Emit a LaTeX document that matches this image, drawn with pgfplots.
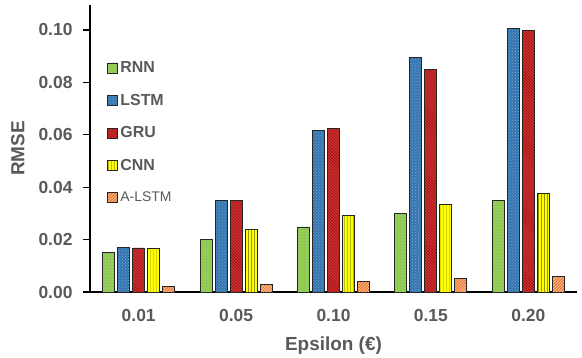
\documentclass[border=0pt]{standalone}
\usepackage{pgfplots}
\pgfplotsset{compat=1.18}
\usepackage{fontspec}
\setmainfont{Liberation Sans}
\usetikzlibrary{patterns}
\definecolor{txt}{HTML}{595959}
\definecolor{cRNN}{HTML}{92D050}
\definecolor{cLSTM}{HTML}{3474B0}
\definecolor{cGRU}{HTML}{CC3333}
\definecolor{cCNN}{HTML}{FFFF00}
\definecolor{cAL}{HTML}{ED7D31}
\pgfplotstableread{
x RNN LSTM GRU CNN AL
0 0.0150 0.0170 0.0168 0.0165 0.0020
1 0.0200 0.0350 0.0350 0.0238 0.0030
2 0.0248 0.0618 0.0623 0.0293 0.0039
3 0.0298 0.0896 0.0848 0.0335 0.0050
4 0.0348 0.1006 0.0997 0.0375 0.0060
}\data
\begin{document}
\begin{tikzpicture}
\begin{axis}[
  scale only axis, width=487bp, height=287bp,
  ybar=3bp, bar width=12bp,
  xmin=-0.5, xmax=4.5, ymin=0, ymax=0.1095,
  axis lines=left, axis line style={black, line width=1.3bp, -},
  xtick=data, xticklabels={0.01,0.05,0.10,0.15,0.20},
  major x tick style={draw=none},
  ytick={0,0.02,0.04,0.06,0.08,0.10},
  yticklabel style={xshift=-7bp, /pgf/number format/.cd, fixed, fixed zerofill, precision=2},
  /pgf/number format/assume math mode=true,
  major y tick style={black, line width=1.3bp},
  tick align=outside, major tick length=7bp,
  ticklabel style={font=\fontsize{17.5}{20}\selectfont\bfseries, text=txt},
  xticklabel style={yshift=-7bp},
  xlabel={Epsilon (€)}, ylabel={RMSE},
  label style={font=\fontsize{19}{22}\selectfont\bfseries, text=txt},
  xlabel style={at={(axis description cs:0.5,0)}, anchor=north, yshift=-41bp},
  ylabel style={at={(axis description cs:0,0.5)}, anchor=south, yshift=62bp},
  legend style={draw=none, fill=none, at={(axis description cs:0.0355,0.81)}, anchor=north west,
    font=\fontsize{16}{19}\selectfont\bfseries, text=txt, row sep=16bp, inner sep=0pt,
    /tikz/every even column/.append style={column sep=4bp}},
  legend cell align=left,
  legend image code/.code={\draw[#1] (0bp,-5bp) rectangle (10bp,5bp);},
  every axis plot/.append style={draw=black!85, line width=0.9bp},
  clip=false,
]
\addplot[fill=cRNN, postaction={pattern=dots, pattern color=black!40}] table[x=x,y=RNN]{\data};
\addplot[fill=cLSTM, postaction={pattern=crosshatch dots, pattern color=cLSTM!60!white}] table[x=x,y=LSTM]{\data};
\addplot[fill=cGRU, postaction={pattern=north west lines, pattern color=red!60!black}] table[x=x,y=GRU]{\data};
\addplot[fill=cCNN, postaction={pattern=vertical lines, pattern color=yellow!60!black}] table[x=x,y=CNN]{\data};
\addplot[fill=cAL, postaction={pattern=north east lines, pattern color=white!80!cAL}] table[x=x,y=AL]{\data};
\legend{RNN,LSTM,GRU,CNN,{\mdseries\fontsize{14}{17}\selectfont A-LSTM}}
\end{axis}
\path[use as bounding box] (-90bp,-66bp) rectangle (492bp,292bp);
\end{tikzpicture}
\end{document}
